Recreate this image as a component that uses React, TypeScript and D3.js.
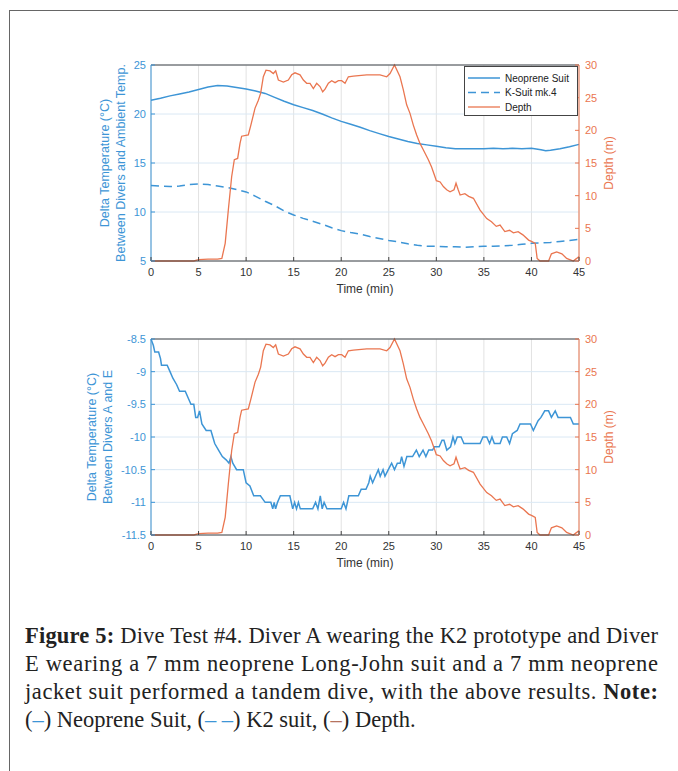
import React from 'react';
import * as d3 from 'd3';

// time axis (minutes)
const timeTicks = [0, 5, 10, 15, 20, 25, 30, 35, 40, 45];
const depthTicks = [0, 5, 10, 15, 20, 25, 30];

// top panel: delta temperature between divers and ambient
const topTicks = [5, 10, 15, 20, 25];
const neopreneTime = [0, 1, 2, 3, 4, 5, 6, 7, 8, 9, 10, 11, 12, 13, 14, 15, 16, 17, 18, 19, 20, 21, 22, 23, 24, 25, 26, 27, 28, 29, 30, 31, 32, 33, 34, 35, 36, 37, 38, 39, 40, 41, 41.5, 42, 43, 44, 45];
const neopreneTemp = [21.4, 21.6, 21.85, 22.05, 22.25, 22.5, 22.75, 22.9, 22.85, 22.7, 22.55, 22.35, 22.1, 21.7, 21.3, 20.95, 20.65, 20.35, 20.0, 19.6, 19.25, 18.95, 18.65, 18.3, 18.0, 17.7, 17.45, 17.2, 17.0, 16.85, 16.7, 16.55, 16.45, 16.45, 16.45, 16.45, 16.5, 16.45, 16.5, 16.45, 16.5, 16.35, 16.25, 16.3, 16.45, 16.65, 16.9];
const ksuitTime = [0, 1, 2, 3, 4, 5, 6, 7, 8, 9, 10, 11, 12, 13, 14, 15, 16, 17, 18, 19, 20, 21, 22, 23, 24, 25, 26, 27, 28, 29, 30, 31, 32, 33, 34, 35, 36, 37, 38, 39, 40, 41, 42, 43, 44, 45];
const ksuitTemp = [12.7, 12.65, 12.6, 12.65, 12.8, 12.85, 12.8, 12.65, 12.5, 12.3, 12.05, 11.6, 11.1, 10.65, 10.1, 9.7, 9.35, 9.05, 8.75, 8.4, 8.1, 7.9, 7.75, 7.5, 7.3, 7.1, 6.95, 6.75, 6.6, 6.5, 6.5, 6.45, 6.45, 6.4, 6.45, 6.5, 6.5, 6.55, 6.6, 6.7, 6.8, 6.85, 6.9, 7.0, 7.1, 7.2];

// depth (m), shared by both panels
const depthTime = [0, 2, 4.5, 5, 6, 7, 7.45, 7.8, 8.13, 8.48, 8.76, 9.11, 9.36, 9.53, 10.23, 10.5, 10.94, 11.29, 11.53, 11.81, 12.09, 12.51, 12.86, 13.11, 13.39, 13.92, 14.44, 14.79, 15.14, 15.67, 16.02, 16.37, 16.72, 17.07, 17.42, 17.77, 18.05, 18.3, 18.65, 19.0, 19.35, 19.7, 20.05, 20.4, 20.75, 21.28, 22.68, 24.08, 24.78, 25.13, 25.6, 26.18, 26.53, 26.88, 27.23, 27.58, 27.93, 28.28, 28.64, 29.16, 29.5, 29.86, 30.0, 30.4, 30.74, 31.09, 31.44, 31.86, 32.07, 32.3, 32.5, 33.0, 33.4, 33.9, 34.6, 35.3, 35.8, 36.3, 36.7, 37.2, 37.7, 38.1, 38.6, 39.1, 39.7, 40.0, 40.4, 40.6, 40.9, 41.8, 42.1, 42.65, 43.2, 43.7, 44.4, 44.76, 45];
const depthVal = [0, 0, 0, 0.2, 0.3, 0.3, 0.4, 2.7, 7.8, 12.9, 15.5, 15.7, 18.0, 19.1, 19.3, 20.8, 23.4, 24.6, 25.7, 28.2, 29.2, 29.1, 28.7, 29.1, 27.7, 27.4, 27.7, 28.5, 28.8, 28.5, 27.7, 27.2, 27.2, 26.4, 27.2, 26.7, 25.9, 26.3, 27.2, 27.6, 27.3, 27.6, 27.6, 27.2, 28.2, 28.3, 28.5, 28.5, 28.2, 28.7, 30.0, 28.2, 26.2, 23.9, 22.6, 20.8, 19.3, 18.0, 17.0, 15.5, 14.4, 12.9, 12.3, 12.1, 11.4, 10.9, 10.6, 10.9, 11.9, 10.9, 10.1, 10.3, 9.9, 9.6, 7.8, 6.5, 6.0, 5.3, 5.5, 4.5, 4.7, 4.3, 4.5, 4.0, 3.2, 3.0, 2.7, 0.4, 0, 0, 1.1, 1.4, 1.1, 0.4, 0, 0.4, 0.7];

// bottom panel: delta temperature between divers A and E
const bottomTicks = [-8.5, -9, -9.5, -10, -10.5, -11, -11.5];
const diffTime = [0, 0.25, 0.4, 0.8, 1.0, 1.1, 1.7, 2.0, 2.3, 2.7, 3.0, 3.6, 3.9, 4.2, 4.5, 4.7, 4.9, 5.1, 5.35, 5.8, 6.3, 6.5, 6.7, 7.1, 7.5, 7.9, 8.2, 8.4, 8.6, 9.0, 9.7, 10.0, 10.4, 10.8, 11.5, 12.0, 12.6, 12.8, 12.95, 13.1, 13.3, 13.6, 14.6, 14.9, 15.1, 15.3, 15.5, 15.7, 16.0, 17.0, 17.3, 17.55, 17.8, 18.0, 18.2, 18.5, 20.0, 20.25, 20.5, 20.8, 21.8, 22.1, 22.6, 22.9, 23.05, 23.3, 23.6, 23.9, 24.1, 24.4, 24.6, 24.95, 25.3, 25.6, 25.9, 26.2, 26.35, 26.6, 26.9, 27.5, 27.9, 28.2, 28.6, 28.9, 29.2, 29.6, 29.8, 30.3, 30.6, 30.8, 31.1, 31.5, 31.75, 31.95, 32.2, 32.6, 32.9, 34.6, 34.9, 35.3, 35.6, 35.85, 36.1, 36.7, 36.95, 37.4, 37.7, 38.0, 38.5, 38.8, 39.9, 40.2, 40.7, 41.0, 41.4, 41.8, 42.1, 42.5, 42.8, 44.1, 44.4, 45];
const diffVal = [-8.5, -8.6, -8.7, -8.7, -8.8, -8.9, -8.9, -9.0, -9.1, -9.2, -9.3, -9.3, -9.4, -9.5, -9.5, -9.7, -9.7, -9.6, -9.8, -9.9, -9.9, -10.0, -10.1, -10.2, -10.3, -10.35, -10.4, -10.3, -10.4, -10.5, -10.5, -10.7, -10.75, -10.9, -10.9, -11.0, -11.0, -11.1, -11.0, -11.1, -11.0, -10.9, -10.9, -11.1, -11.0, -11.1, -11.0, -11.1, -11.1, -11.1, -11.0, -11.1, -10.9, -11.1, -11.0, -11.1, -11.1, -11.0, -11.1, -10.9, -10.9, -10.8, -10.8, -10.7, -10.6, -10.7, -10.6, -10.5, -10.6, -10.5, -10.6, -10.5, -10.4, -10.5, -10.4, -10.4, -10.3, -10.45, -10.3, -10.3, -10.2, -10.3, -10.2, -10.3, -10.2, -10.2, -10.15, -10.15, -10.05, -10.05, -10.2, -10.15, -10.0, -10.1, -10.0, -10.0, -10.1, -10.1, -10.0, -10.0, -10.1, -10.0, -10.1, -10.1, -10.0, -10.0, -10.1, -9.95, -9.9, -9.8, -9.8, -9.9, -9.75, -9.7, -9.6, -9.6, -9.7, -9.6, -9.7, -9.7, -9.8, -9.8];

const legendLabels = ['Neoprene Suit', 'K-Suit mk.4', 'Depth'];

const BLUE = '#3d95d6';
const ORANGE = '#ea7650';
const AXIS_GRAY = '#444';
const FONT = 'Liberation Sans, Arial, sans-serif';

type Series = { t: number[]; v: number[]; dash?: string };

const Panel = ({ top, bottom, leftDomain, leftTicks, labelLines, labelX, series, legend }: {
  top: number; bottom: number; leftDomain: [number, number]; leftTicks: number[];
  labelLines: string[]; labelX: number; series: Series[]; legend?: boolean;
}) => {
  const left = 151, right = 579;
  const x = d3.scaleLinear().domain([0, 45]).range([left, right]);
  const y = d3.scaleLinear().domain(leftDomain).range([bottom, top]);
  const yr = d3.scaleLinear().domain([0, 30]).range([bottom, top]);
  const cy = (top + bottom) / 2;

  const line = (s: Series, sc: d3.ScaleLinear<number, number>) =>
    d3.line<number>().x((_, i) => x(s.t[i])).y(d => sc(d))(s.v) || '';

  return (
    <g fontFamily={FONT}>
      {/* grid */}
      {timeTicks.map(t => (
        <line key={'gx' + t} x1={x(t)} x2={x(t)} y1={top} y2={bottom} stroke="#e2e2e2" />
      ))}
      {leftTicks.map(v => (
        <line key={'gy' + v} x1={left} x2={right} y1={y(v)} y2={y(v)} stroke="#dae8f4" />
      ))}

      {/* data */}
      {series.map((s, i) => (
        <path key={i} d={line(s, y)} fill="none" stroke={BLUE} strokeWidth={1.5} strokeDasharray={s.dash} />
      ))}
      <path d={line({ t: depthTime, v: depthVal }, yr)} fill="none" stroke={ORANGE} strokeWidth={1.3} />

      {/* box */}
      <line x1={left} x2={right} y1={top} y2={top} stroke={AXIS_GRAY} />
      <line x1={left} x2={right} y1={bottom} y2={bottom} stroke={AXIS_GRAY} />
      <line x1={left} x2={left} y1={top} y2={bottom} stroke={BLUE} />
      <line x1={right} x2={right} y1={top} y2={bottom} stroke={ORANGE} />

      {/* x axis */}
      {timeTicks.map(t => (
        <g key={'xt' + t}>
          <line x1={x(t)} x2={x(t)} y1={bottom} y2={bottom - 4} stroke={AXIS_GRAY} />
          <text x={x(t)} y={bottom + 15} textAnchor="middle" fontSize={11} fill="#333">{t}</text>
        </g>
      ))}
      <text x={(left + right) / 2} y={bottom + 32} textAnchor="middle" fontSize={12} fill="#333">Time (min)</text>

      {/* left axis */}
      {leftTicks.map(v => (
        <g key={'yt' + v}>
          <line x1={left} x2={left + 4} y1={y(v)} y2={y(v)} stroke={BLUE} />
          <text x={left - 5} y={y(v)} dy="0.35em" textAnchor="end" fontSize={11} fill={BLUE}>{v}</text>
        </g>
      ))}
      {labelLines.map((s, i) => (
        <text key={s} transform={`translate(${labelX + i * 15.5},${cy}) rotate(-90)`} textAnchor="middle"
          dominantBaseline="central" fontSize={12.5} fill={BLUE}>{s}</text>
      ))}

      {/* right axis */}
      {depthTicks.map(v => (
        <g key={'rt' + v}>
          <line x1={right} x2={right - 4} y1={yr(v)} y2={yr(v)} stroke={ORANGE} />
          <text x={right + 6} y={yr(v)} dy="0.35em" fontSize={11} fill={ORANGE}>{v}</text>
        </g>
      ))}
      <text transform={`translate(609,${cy}) rotate(-90)`} textAnchor="middle" dominantBaseline="central"
        fontSize={12} fill={ORANGE}>Depth (m)</text>

      {legend && (
        <g>
          <rect x={464.5} y={66.5} width={113} height={49} fill="#fff" stroke={AXIS_GRAY} />
          {legendLabels.map((lab, i) => (
            <g key={lab}>
              <line x1={468} x2={500} y1={78 + i * 14.5} y2={78 + i * 14.5}
                stroke={i < 2 ? BLUE : ORANGE} strokeWidth={i < 2 ? 1.5 : 1.3}
                strokeDasharray={i === 1 ? '8,5' : undefined} />
              <text x={505} y={78 + i * 14.5} dy="0.35em" fontSize={10} fill="#222">{lab}</text>
            </g>
          ))}
        </g>
      )}
    </g>
  );
};

export default function App() {
  return (
    <svg width={678} height={771} style={{ position: 'absolute', left: 0, top: 0, background: '#fff' }}>
      <rect x={9.5} y={10.5} width={700} height={800} fill="none" stroke="#666" />
      <Panel top={65} bottom={261} leftDomain={[5, 25]} leftTicks={topTicks} labelX={105}
        labelLines={['Delta Temperature (°C)', 'Between Divers and Ambient Temp.']}
        series={[{ t: neopreneTime, v: neopreneTemp }, { t: ksuitTime, v: ksuitTemp, dash: '8,5' }]} legend />
      <Panel top={339} bottom={535} leftDomain={[-11.5, -8.5]} leftTicks={bottomTicks} labelX={92}
        labelLines={['Delta Temperature (°C)', 'Between Divers A and E']}
        series={[{ t: diffTime, v: diffVal }]} />

      <g fontFamily="Liberation Serif, Times New Roman, serif" fontSize={22.5} fill="#222">
        <text x={25} y={643} textLength={633} lengthAdjust="spacing">
          <tspan fontWeight="bold">Figure 5:</tspan> Dive Test #4. Diver A wearing the K2 prototype and Diver
        </text>
        <text x={25} y={671} textLength={633} lengthAdjust="spacing">
          E wearing a 7 mm neoprene Long-John suit and a 7 mm neoprene
        </text>
        <text x={25} y={699} textLength={633} lengthAdjust="spacing">
          jacket suit performed a tandem dive, with the above results. <tspan fontWeight="bold">Note:</tspan>
        </text>
        <text x={25} y={727}>
          (<tspan fill={BLUE}>–</tspan>) Neoprene Suit, (<tspan fill={BLUE}>– –</tspan>) K2 suit, (<tspan fill="#b5735f">–</tspan>) Depth.
        </text>
      </g>
    </svg>
  );
}
